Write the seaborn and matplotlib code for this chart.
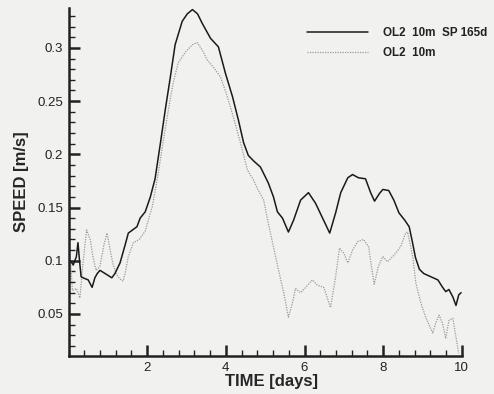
import numpy as np
import pandas as pd
import matplotlib
matplotlib.use("Agg")
import matplotlib.pyplot as plt
from matplotlib.ticker import MultipleLocator
from matplotlib.lines import Line2D
import seaborn as sns

# Series 1: OL2 10m SP 165d (solid)
t_sp = [0.05, 0.12, 0.20, 0.24, 0.28, 0.32, 0.37, 0.50, 0.60, 0.67, 0.73, 0.80, 0.93, 1.10, 1.18,
        1.31, 1.44, 1.52, 1.74, 1.82, 1.95, 2.08, 2.20, 2.33, 2.46, 2.59, 2.71, 2.89, 3.02, 3.15,
        3.28, 3.40, 3.61, 3.81, 3.99, 4.17, 4.32, 4.45, 4.57, 4.70, 4.88, 5.08, 5.21, 5.31, 5.44,
        5.59, 5.72, 5.90, 6.10, 6.28, 6.46, 6.64, 6.79, 6.92, 7.10, 7.22, 7.37, 7.55, 7.68, 7.78,
        7.90, 7.99, 8.14, 8.27, 8.40, 8.55, 8.66, 8.74, 8.82, 8.92, 9.03, 9.21, 9.39, 9.51, 9.59,
        9.67, 9.77, 9.85, 9.92, 9.98]
v_sp = [0.100, 0.096, 0.104, 0.117, 0.100, 0.085, 0.084, 0.082, 0.075, 0.084, 0.088, 0.091, 0.088,
        0.084, 0.088, 0.098, 0.115, 0.126, 0.132, 0.140, 0.146, 0.160, 0.177, 0.209, 0.242, 0.273,
        0.303, 0.325, 0.332, 0.336, 0.332, 0.323, 0.309, 0.301, 0.276, 0.254, 0.232, 0.211, 0.199,
        0.194, 0.188, 0.173, 0.160, 0.146, 0.140, 0.127, 0.138, 0.157, 0.164, 0.154, 0.140, 0.126,
        0.145, 0.164, 0.178, 0.181, 0.178, 0.177, 0.164, 0.156, 0.163, 0.167, 0.166, 0.157, 0.145,
        0.138, 0.132, 0.118, 0.103, 0.092, 0.088, 0.085, 0.082, 0.075, 0.071, 0.073, 0.066, 0.058,
        0.068, 0.070]

# Series 2: OL2 10m (dotted)
t_ol = [0.05, 0.10, 0.20, 0.29, 0.36, 0.46, 0.55, 0.62, 0.70, 0.80, 0.90, 0.98, 1.06, 1.13, 1.21,
        1.30, 1.39, 1.45, 1.52, 1.65, 1.80, 1.95, 2.13, 2.28, 2.41, 2.54, 2.66, 2.79, 2.97, 3.15,
        3.27, 3.40, 3.52, 3.68, 3.86, 4.04, 4.19, 4.37, 4.55, 4.70, 4.80, 4.96, 5.08, 5.21, 5.34,
        5.47, 5.59, 5.69, 5.77, 5.90, 6.03, 6.20, 6.33, 6.49, 6.66, 6.79, 6.89, 7.00, 7.10, 7.22,
        7.35, 7.50, 7.63, 7.70, 7.77, 7.88, 7.99, 8.11, 8.27, 8.44, 8.57, 8.62, 8.75, 8.83, 8.96,
        9.08, 9.26, 9.33, 9.42, 9.51, 9.59, 9.67, 9.77, 9.85, 9.92]
v_ol = [0.100, 0.072, 0.074, 0.065, 0.095, 0.129, 0.120, 0.104, 0.091, 0.095, 0.115, 0.126, 0.110,
        0.097, 0.088, 0.083, 0.081, 0.090, 0.104, 0.117, 0.120, 0.128, 0.151, 0.182, 0.213, 0.242,
        0.267, 0.286, 0.296, 0.303, 0.305, 0.298, 0.289, 0.282, 0.273, 0.254, 0.235, 0.211, 0.185,
        0.176, 0.168, 0.157, 0.135, 0.113, 0.091, 0.070, 0.047, 0.060, 0.074, 0.070, 0.075, 0.082,
        0.077, 0.075, 0.056, 0.085, 0.112, 0.107, 0.098, 0.110, 0.118, 0.120, 0.113, 0.095, 0.078,
        0.095, 0.104, 0.099, 0.105, 0.113, 0.126, 0.127, 0.104, 0.079, 0.060, 0.047, 0.032, 0.041,
        0.049, 0.041, 0.027, 0.044, 0.046, 0.028, 0.013]

x_ticks = [2, 4, 6, 8, 10]
y_ticks = [0.05, 0.1, 0.15, 0.2, 0.25, 0.3]
y_tick_labels = ["0.05", "0.1", "0.15", "0.2", "0.25", "0.3"]
labels = ["OL2  10m  SP 165d", "OL2  10m"]

sns.set_style("ticks")
plt.rcParams['font.family'] = ['Liberation Sans', 'DejaVu Sans']
bg = "#f1f1f0"

fig = plt.figure(figsize=(4.94, 3.94), dpi=100, facecolor=bg)
ax = fig.add_axes([0.1387, 0.0964, 0.7963, 0.8836])
ax.set_facecolor(bg)

df1 = pd.DataFrame({"t": t_sp, "v": v_sp})
df2 = pd.DataFrame({"t": t_ol, "v": v_ol})
sns.lineplot(data=df2, x="t", y="v", ax=ax, color="#9a9a9a", lw=0.9, linestyle=(0, (1, 1)))
sns.lineplot(data=df1, x="t", y="v", ax=ax, color="#1a1a1a", lw=1.1)

ax.set_xlim(0, 10)
ax.set_ylim(0.0105, 0.3376)
ax.set_xticks(x_ticks)
ax.set_xticklabels([str(v) for v in x_ticks])
ax.set_yticks(y_ticks)
ax.set_yticklabels(y_tick_labels)
ax.xaxis.set_minor_locator(MultipleLocator(0.4))
ax.yaxis.set_minor_locator(MultipleLocator(0.01))
ax.tick_params(which="major", direction="in", length=8, width=1.8, labelsize=9.5, colors="#222222", pad=4)
ax.tick_params(which="minor", direction="in", length=4, width=1.0, colors="#222222")

for s in ["top", "right"]:
    ax.spines[s].set_visible(False)
for s in ["left", "bottom"]:
    ax.spines[s].set_linewidth(1.8)
    ax.spines[s].set_color("#222222")

ax.set_xlabel("TIME [days]", fontsize=12, fontweight="bold", labelpad=0)
ax.set_ylabel("SPEED [m/s]", fontsize=12, fontweight="bold", labelpad=6)
ax.xaxis.set_label_coords(0.515, -0.052)

handles = [Line2D([], [], color="#1a1a1a", lw=1.1),
           Line2D([], [], color="#9a9a9a", lw=0.9, linestyle=(0, (1, 1)))]
leg = ax.legend(handles, labels, loc="upper left", bbox_to_anchor=(307 / 494, 1 - 27 / 394),
                bbox_transform=fig.transFigure, frameon=False, borderpad=0, borderaxespad=0,
                prop={"size": 8.4, "weight": "bold"}, handlelength=5.2, handletextpad=1.3,
                labelspacing=0.72)
for txt in leg.get_texts():
    txt.set_color("#222222")

fig.savefig("out.png", dpi=100, facecolor=bg)
